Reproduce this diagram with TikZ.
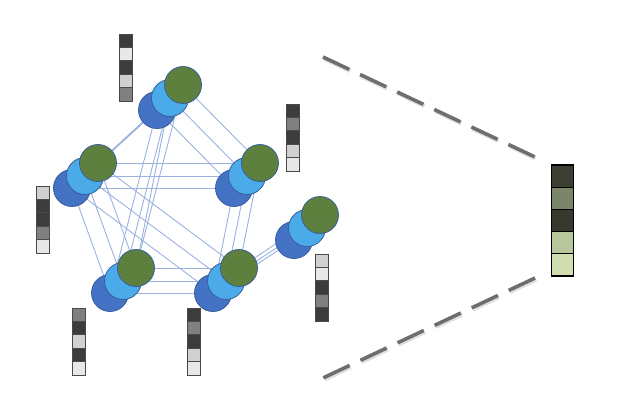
\documentclass[tikz,border=0pt]{standalone}
\pgfdeclarelayer{bg}
\pgfsetlayers{bg,main}
\definecolor{dblue}{HTML}{4472C4}
\definecolor{lblue}{HTML}{4AABE8}
\definecolor{ggreen}{HTML}{5E803E}
\definecolor{outl}{HTML}{3A5E9C}
\definecolor{edgec}{HTML}{9AB2E0}
\definecolor{cD}{HTML}{3C3C3C}
\definecolor{cM}{HTML}{808080}
\definecolor{cL}{HTML}{D0D0D0}
\definecolor{cW}{HTML}{E8E8E8}
\definecolor{cellb}{HTML}{4A4A4A}
\definecolor{g1}{HTML}{3B3F31}
\definecolor{g2}{HTML}{7B8567}
\definecolor{g3}{HTML}{363A2C}
\definecolor{g4}{HTML}{B8C69C}
\definecolor{g5}{HTML}{D1DFB0}
\definecolor{dashc}{HTML}{6E6E6E}
\begin{document}
\begin{tikzpicture}[x=1pt,y=-1pt,
  ball/.style={circle, draw=outl, line width=0.8pt, minimum size=37pt, inner sep=0pt},
  edge/.style={draw=edgec, line width=0.9pt},
  gcell/.style={rectangle, draw=cellb, line width=0.8pt, minimum width=13.5pt, minimum height=13.4pt, inner sep=0pt, outer sep=0pt},
  vcell/.style={rectangle, draw=black, line width=1.2pt, minimum width=22pt, minimum height=22.2pt, inner sep=0pt, outer sep=0pt},
  dashline/.style={draw=dashc, line width=3.6pt, dash pattern=on 29pt off 12pt},
  dashshadow/.style={draw=black, opacity=0.12, line width=4.5pt, dash pattern=on 29pt off 12pt}]
\useasboundingbox (0,0) rectangle (630,410);

% circle stacks
\foreach \n/\x/\y in {T/183/85, L/98/163, R/260/163, BL/136/268, BR/239/268, F/320/215} {
  \node[ball, fill=dblue] (\n-d) at (\x-26,\y+25) {};
  \node[ball, fill=lblue] (\n-l) at (\x-13,\y+13) {};
  \node[ball, fill=ggreen] (\n-g) at (\x,\y) {};
}

% connections
\begin{pgfonlayer}{bg}
\foreach \a/\b in {T/L, T/R, T/BL, L/R, L/BL, L/BR, R/BR, BL/BR, BR/F} {
  \foreach \k in {d,l,g} {
    \draw[edge] (\a-\k.center) -- (\b-\k.center);
  }
}
\draw[edge] (T-l.center) -- (BL-g.center);
\end{pgfonlayer}

% grey feature columns
\foreach \v/\x/\t/\cols in {
  V1/126/34/{cD,cW,cD,cL,cM},
  V2/293/104/{cD,cM,cD,cL,cW},
  V3/322/254/{cL,cW,cD,cM,cD},
  V4/43/186/{cL,cD,cD,cM,cW},
  V5/79/308/{cM,cD,cL,cD,cW},
  V6/194/308/{cD,cM,cD,cL,cW}} {
  \foreach \c [count=\i] in \cols {
    \node[gcell, fill=\c] (\v-\i) at (\x, \t+\i*13.4-6.7) {};
  }
}

% aggregated vector
\foreach \c [count=\i] in {g1,g2,g3,g4,g5} {
  \node[vcell, fill=\c] (A-\i) at (562.5, 165+\i*22.2-11.1) {};
}
\draw[black, line width=1.6pt] (A-1.north west) rectangle (A-5.south east);

% dashed lines
\coordinate (dt1) at (323,57);
\coordinate (dt2) at (535,157);
\coordinate (db1) at (323,378);
\coordinate (db2) at (535,278);
\draw[dashshadow, transform canvas={xshift=1pt, yshift=-1.5pt}] (dt1) -- (dt2);
\draw[dashshadow, transform canvas={xshift=1pt, yshift=-1.5pt}] (db2) -- (db1);
\draw[dashline] (dt1) -- (dt2);
\draw[dashline] (db2) -- (db1);
\end{tikzpicture}
\end{document}
